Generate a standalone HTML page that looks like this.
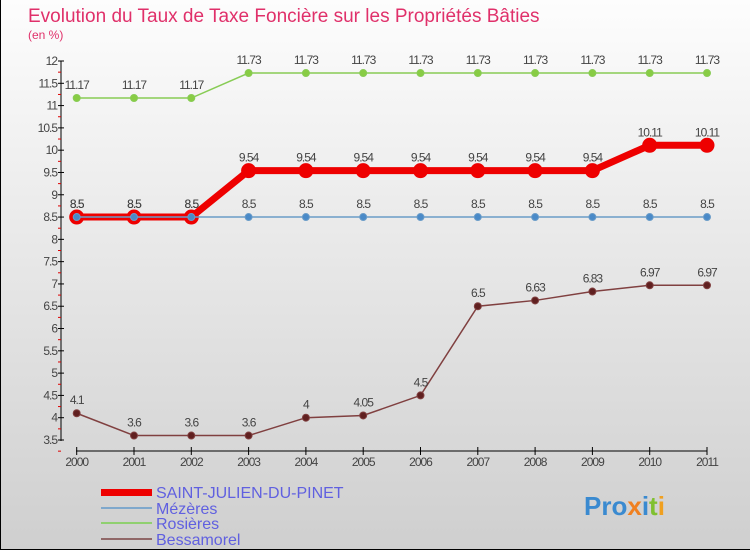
<!DOCTYPE html>
<html><head><meta charset="utf-8"><style>
body{margin:0}
#c{width:750px;height:550px;position:relative;background:linear-gradient(#fdfdfd,#cfcfcf);font-family:"Liberation Sans",sans-serif;overflow:hidden;box-sizing:border-box;border:1px solid #000;border-top:none;border-right:none}
text{font-family:"Liberation Sans",sans-serif}
</style></head><body>
<div id="c">
<svg id="s" width="750" height="550">
<text x="27" y="22" font-size="19" fill="#e0306a">Evolution du Taux de Taxe Foncière sur les Propriétés Bâties</text>
<text x="27" y="39" font-size="12" fill="#e0306a">(en %)</text>
<g id="axes"></g><g id="series"></g>
<g>
<rect x="100" y="489" width="51" height="7" fill="#e00"/>
<rect x="100" y="507" width="51" height="2" fill="#7fa8cc"/>
<rect x="100" y="522" width="51" height="2" fill="#90d070"/>
<rect x="100" y="538" width="51" height="2" fill="#906868"/>
<text x="155" y="498" font-size="16" fill="#6060e0">SAINT-JULIEN-DU-PINET</text>
<text x="155" y="514" font-size="16" fill="#6060e0">Mézères</text>
<text x="155" y="529" font-size="16" fill="#6060e0">Rosières</text>
<text x="155" y="545" font-size="16" fill="#6060e0">Bessamorel</text>
</g>
<g font-size="26" font-weight="bold">
<text x="583" y="515"><tspan fill="#3a8ad0">Pro</tspan><tspan fill="#f08020">x</tspan><tspan fill="#3a8ad0">i</tspan><tspan fill="#80c030">t</tspan><tspan fill="#f0a020">i</tspan></text>
</g>
</svg>
</div>
<script>
const years=[2000,2001,2002,2003,2004,2005,2006,2007,2008,2009,2010,2011];
const saint=[8.5,8.5,8.5,9.54,9.54,9.54,9.54,9.54,9.54,9.54,10.11,10.11];
const mezeres=[8.5,8.5,8.5,8.5,8.5,8.5,8.5,8.5,8.5,8.5,8.5,8.5];
const rosieres=[11.17,11.17,11.17,11.73,11.73,11.73,11.73,11.73,11.73,11.73,11.73,11.73];
const bessamorel=[4.1,3.6,3.6,3.6,4,4.05,4.5,6.5,6.63,6.83,6.97,6.97];
const yTicks=[3.5,4,4.5,5,5.5,6,6.5,7,7.5,8,8.5,9,9.5,10,10.5,11,11.5,12];
const NS="http://www.w3.org/2000/svg";
const X=i=>75.7+i*(706-75.7)/(years.length-1);
const Y=v=>440-(v-3.5)*(440-61)/8.5;
function mk(t,a,p){const e=document.createElementNS(NS,t);for(const k in a)e.setAttribute(k,a[k]);p.appendChild(e);return e;}
const ax=document.getElementById('axes');
mk('line',{x1:60,y1:61,x2:60,y2:441,stroke:'#000'},ax);
mk('line',{x1:75,y1:451,x2:706,y2:451,stroke:'#000'},ax);
yTicks.forEach(v=>{
 const y=Y(v);
 const l=mk('line',{x1:57,y1:y,x2:63,y2:y,stroke:'#000'},ax);
 
 
 mk('line',{x1:57,y1:y+11.15,x2:60,y2:y+11.15,stroke:'#d00'},ax);
 const t=mk('text',{x:56,y:y+4,'text-anchor':'end','font-size':12,fill:'#444','letter-spacing':'-1'},ax);
 t.textContent=String(v);
 
 
});
years.forEach((yr,i)=>{
 const x=X(i);
 mk('line',{x1:x,y1:447,x2:x,y2:455,stroke:'#000'},ax);
 const t=mk('text',{x:x,y:466,'text-anchor':'middle','font-size':12,fill:'#444','letter-spacing':'-1'},ax);
 t.textContent=String(yr);
 
 
});
const sg=document.getElementById('series');
function draw(vals,color,w,r,fill,name,lbl){
 const g=mk('g',{},sg);
 
 
 mk('polyline',{points:vals.map((v,i)=>X(i)+','+Y(v)).join(' '),fill:'none',stroke:color,'stroke-width':w},g);
 vals.forEach((v,i)=>{
  const c=mk('circle',{cx:X(i),cy:Y(v),r:r,fill:fill,stroke:color,'stroke-width':r>5?3:1},g);
  
  
  if(lbl){const t=mk('text',{x:X(i),y:Y(v)-9,'text-anchor':'middle','font-size':12,fill:'#444','letter-spacing':'-1'},g);t.textContent=String(v);}
 });
}
draw(rosieres,'#88cc55',1.5,3.5,'#88cc44','rosieres-series',true);
draw(saint,'#ee0000',7,6,'#ee0000','saint-julien-series',true);
draw(mezeres,'#6a9cc8',1.5,3.5,'#4a8ac8','mezeres-series',true);
draw(bessamorel,'#804040',1.5,3.5,'#602020','bessamorel-series',true);
</script>
</body></html>
